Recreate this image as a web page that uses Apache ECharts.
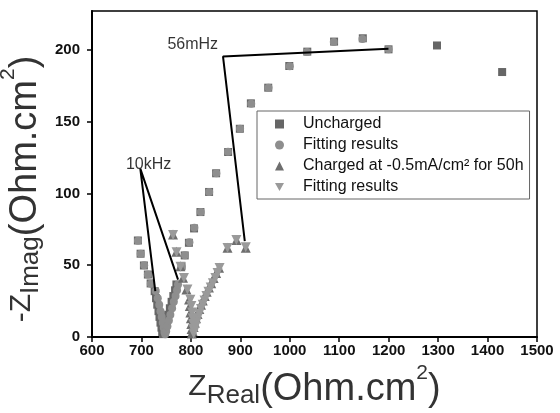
<!DOCTYPE html>
<html>
<head>
<meta charset="utf-8">
<script src="https://cdn.jsdelivr.net/npm/echarts@6/dist/echarts.min.js"></script>
<style>
  html, body { margin: 0; padding: 0; background: #fff; }
  #main { width: 560px; height: 413px; }
</style>
</head>
<body>
<div id="main"></div>
<script>
// uncharged (squares)
var unchargedX = [692.8, 698.3, 705, 713, 718.6, 726.7, 729.5, 732, 734.5, 736.5, 738.5, 740.5, 742, 743.5, 745.5, 748, 751, 754, 757.5, 761, 764.5, 768, 770.7, 781, 787.5, 796, 806.4, 819.3, 836.8, 851, 875.3, 899, 921.3, 956.4, 999, 1035.4, 1089.6, 1147.7, 1199.7, 1297.7, 1429.5];
var unchargedY = [67.2, 58, 49.8, 43.5, 37.3, 31.9, 27, 22.5, 18, 14, 10, 6.5, 3.5, 2, 4, 7.5, 11.5, 15.5, 20, 24.5, 28.5, 32.5, 36.6, 49.3, 56.8, 65.6, 75.6, 87, 101, 114, 128.8, 145, 162.7, 173.6, 188.7, 198.7, 205.7, 208, 200.3, 203, 184.5];
// fitting of uncharged (circles)
var unchargedFitX = [693, 698.5, 705.5, 713, 719, 729, 733, 736, 738.5, 741, 743, 745, 746.5, 748, 750, 752.5, 755.5, 758.5, 762, 765.5, 769, 772, 774, 781.5, 788, 797, 807, 820, 837, 851.5, 875, 899.5, 922, 957, 1000, 1035, 1089, 1147, 1199.7];
var unchargedFitY = [67, 58, 50, 43.5, 37, 32, 27, 22.5, 18, 14, 10, 6.5, 3.5, 2, 4, 7.5, 11.5, 15.5, 20, 24.5, 28.5, 32.5, 36.5, 49, 57, 66, 76, 87, 101, 114, 129, 145, 162.5, 173.5, 188.5, 198.5, 205.5, 207.5, 200.3];
// charged at -0.5mA/cm2 for 50h (triangles)
var chargedX = [763.8, 770.7, 778.8, 784, 791, 796.3, 797.8, 799, 800, 800.8, 801.5, 802, 803.5, 805.5, 808, 810.5, 813.5, 817, 820.5, 824, 828, 832, 836.5, 841, 846, 851, 857, 874, 892.3, 911];
var chargedY = [71.4, 59.4, 49.3, 41.2, 33.1, 26.1, 21.5, 17, 13, 9, 5.5, 2.5, 4, 7, 10, 13, 16, 19.5, 22.5, 25.5, 28.5, 31.5, 34.5, 37.5, 41, 44.5, 48.2, 62.2, 67.5, 62.2];
// fitting of charged (down triangles)
var chargedFitX = [764, 771, 779, 786, 793, 799, 801, 802.5, 803.5, 804.5, 805, 805.5, 807, 809, 811.5, 814, 817, 820.5, 824, 827.5, 831.5, 835.5, 840, 844.5, 849.5, 854, 858, 874, 892, 911];
var chargedFitY = [71, 59, 49, 41, 33, 26, 21.5, 17, 13, 9, 5.5, 2.5, 4, 7, 10, 13, 16, 19.5, 22.5, 25.5, 28.5, 31.5, 34.5, 37.5, 41, 44.5, 48, 62, 67.5, 62.5];

// annotation lines and labels
var kHzLineX = [728, 697.7, 774];
var kHzLineY = [32, 117.2, 40];
var mHzLineX = [909, 865, 1199.6];
var mHzLineY = [66.8, 195.3, 200.8];
var noteText = ['10kHz', '56mHz'];
var noteX = [714.5, 803.7];
var noteY = [120.2, 203.8];

var xTicks = [600, 1500, 100];
var yTicks = [0, 50, 100, 150, 200];

function pairs(xs, ys) {
  return xs.map(function (x, i) { return [x, ys[i]]; });
}

var downTri = 'path://M0,0L10,0L5,9Z';
var font = 'Liberation Sans, Arial';

function titleRich() {
  return {
    z: { fontSize: 30, color: '#333', fontFamily: font, lineHeight: 46, verticalAlign: 'bottom', padding: [0, 0, 7, 0] },
    sub: { fontSize: 26, color: '#333', fontFamily: font, verticalAlign: 'bottom' },
    m: { fontSize: 38, color: '#333', fontFamily: font, lineHeight: 46, verticalAlign: 'bottom' },
    sup: { fontSize: 21, color: '#333', fontFamily: font, verticalAlign: 'top' }
  };
}

var chart = echarts.init(document.getElementById('main'));

var option = {
  animation: false,
  backgroundColor: '#fff',
  grid: {
    left: 92, right: 23, top: 11, bottom: 76,
    outerBoundsMode: 'none',
    containLabel: false,
    show: true, borderColor: '#000', borderWidth: 1.5
  },
  legend: {
    data: ['Uncharged', 'Fitting results', 'Charged at -0.5mA/cm² for 50h', 'Fitting results '],
    orient: 'vertical',
    left: 257,
    top: 111,
    padding: [4, 6, 3, 18],
    itemGap: 3,
    itemWidth: 9,
    itemHeight: 9,
    borderColor: '#666',
    borderWidth: 1,
    backgroundColor: '#fff',
    formatter: function (n) { return n.trim(); },
    textStyle: {
      fontFamily: font,
      fontSize: 16,
      lineHeight: 18,
      color: '#111',
      padding: [0, 0, 0, 14]
    }
  },
  xAxis: {
    type: 'value',
    min: xTicks[0],
    max: xTicks[1],
    interval: xTicks[2],
    splitLine: { show: false },
    axisLine: { lineStyle: { color: '#000', width: 2 } },
    axisTick: { length: 5, lineStyle: { color: '#000', width: 1.5 } },
    axisLabel: {
      margin: 6,
      color: '#111',
      fontFamily: font,
      fontWeight: 'bold',
      fontSize: 15,
      formatter: function (v) { return String(v); }
    },
    name: '{z|Z}{sub|Real}{m|(Ohm.cm}{sup|2}{m|)}',
    nameLocation: 'middle',
    nameGap: 26,
    nameTextStyle: { rich: titleRich() }
  },
  yAxis: {
    type: 'value',
    min: 0,
    max: 227,
    interval: 50,
    splitLine: { show: false },
    axisLine: { lineStyle: { color: '#000', width: 2 } },
    axisTick: { length: 5, customValues: yTicks, lineStyle: { color: '#000', width: 1.5 } },
    axisLabel: {
      margin: 12,
      customValues: yTicks,
      color: '#111',
      fontFamily: font,
      fontWeight: 'bold',
      fontSize: 15,
      formatter: function (v) { return String(v); }
    },
    name: '{z|-Z}{sub|Imag}{m|(Ohm.cm}{sup|2}{m|)}',
    nameLocation: 'middle',
    nameGap: 46,
    nameTextStyle: {
      padding: [0, 30, 0, 0],
      rich: titleRich()
    }
  },
  series: [
    {
      name: 'Uncharged',
      type: 'scatter',
      symbol: 'rect',
      symbolSize: 8,
      itemStyle: { color: '#666', opacity: 1 },
      data: pairs(unchargedX, unchargedY)
    },
    {
      name: 'Fitting results',
      type: 'scatter',
      symbol: 'circle',
      symbolSize: 8,
      itemStyle: { color: '#8e8e8e', opacity: 1 },
      data: pairs(unchargedFitX, unchargedFitY)
    },
    {
      name: 'Charged at -0.5mA/cm² for 50h',
      type: 'scatter',
      symbol: 'triangle',
      symbolSize: 10,
      itemStyle: { color: '#6e6e6e', opacity: 1 },
      data: pairs(chargedX, chargedY)
    },
    {
      name: 'Fitting results ',
      type: 'scatter',
      symbol: downTri,
      symbolSize: 10,
      itemStyle: { color: '#9a9a9a', opacity: 1 },
      data: pairs(chargedFitX, chargedFitY)
    },
    {
      type: 'line',
      silent: true,
      symbol: 'none',
      lineStyle: { color: '#000', width: 2 },
      data: pairs(kHzLineX, kHzLineY)
    },
    {
      type: 'line',
      silent: true,
      symbol: 'none',
      lineStyle: { color: '#000', width: 2 },
      data: pairs(mHzLineX, mHzLineY)
    },
    {
      type: 'scatter',
      silent: true,
      symbolSize: 1,
      itemStyle: { color: 'rgba(0,0,0,0)' },
      label: {
        show: true,
        position: 'inside',
        color: '#000',
        fontFamily: font,
        fontSize: 16,
        formatter: function (p) { return noteText[p.dataIndex]; }
      },
      data: pairs(noteX, noteY)
    }
  ]
};

chart.setOption(option);
</script>
</body>
</html>
